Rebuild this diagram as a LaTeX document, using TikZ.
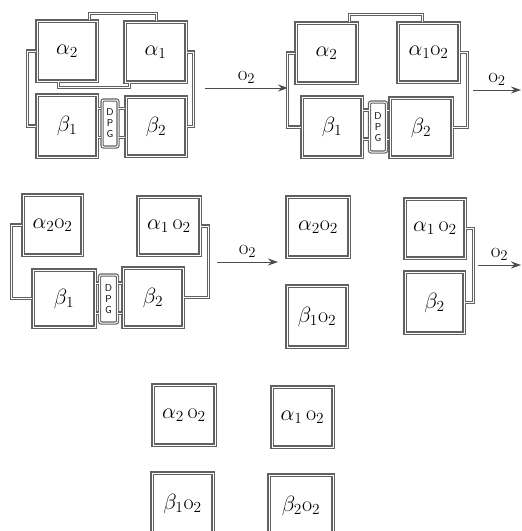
\RequirePackage{fix-cm}
\documentclass[tikz,border=0pt]{standalone}
\usetikzlibrary{arrows.meta,calc}
\begin{document}
\begin{tikzpicture}[x=1pt,y=-1pt,
  dbl/.style={draw=black!62, line width=1.2pt, double=white, double distance=1.0pt},
  unitbox/.style={dbl, rectangle, inner sep=0pt, font=\fontsize{22}{26}\selectfont},
  dpgbox/.style={dbl, rectangle, rounded corners=2pt, inner sep=0pt, align=center,
     font=\fontsize{10}{11}\selectfont\sffamily},
  link/.style={dbl},
  arr/.style={draw=black!70, line width=1pt, -{Stealth[length=10pt,width=7pt]}},
  lbl/.style={font=\fontsize{21}{24}\selectfont}]
\clip (0,0) rectangle (522,531);
\fill[white] (0,0) rectangle (522,531);

% ---------- panel 1 ----------
\node[unitbox, minimum width=60pt, minimum height=60pt] (p1a2) at (67,51) {$\alpha_2$};
\node[unitbox, minimum width=61pt, minimum height=60pt] (p1a1) at (155.5,52) {$\alpha_1$};
\node[unitbox, minimum width=60pt, minimum height=62pt] (p1b1) at (67,126) {$\beta_1$};
\node[unitbox, minimum width=60pt, minimum height=59pt] (p1b2) at (156,126.5) {$\beta_2$};
\node[dpgbox, minimum width=16pt, minimum height=47pt] (p1d) at (110,123.5) {D\\P\\G};
\draw[link] ($(p1a2.north east)+(-8,0)$) -- ++(0,-7) -| ($(p1a1.north west)+(32,0)$);
\draw[link] ($(p1a2.south west)+(22,0)$) -- ++(0,6) -| ($(p1a1.south west)+(5,0)$);
\draw[link] (p1a2.west) -- ++(-9,0) |- (p1b1.west);
\draw[link] (p1a1.east) -- ++(7,0) |- (p1b2.east);
\draw[link] ([yshift=15pt]p1d.west) -- ([yshift=15pt]p1d.west -| p1b1.east);
\draw[link] ([yshift=-14pt]p1d.west) -- ([yshift=-14pt]p1d.west -| p1b1.east);
\draw[link] ([yshift=15pt]p1d.east) -- ([yshift=15pt]p1d.east -| p1b2.west);
\draw[link] ([yshift=-14pt]p1d.east) -- ([yshift=-14pt]p1d.east -| p1b2.west);

\coordinate (s1) at (205,88);
\coordinate (e1) at (288,88);
\draw[arr] (s1) -- node[lbl, above=1pt] {$\mathrm{o}_2$} (e1);

% ---------- panel 2 ----------
\node[unitbox, minimum width=61pt, minimum height=60pt] (p2a2) at (326.5,53) {$\alpha_2$};
\node[unitbox, minimum width=61pt, minimum height=59pt] (p2a1) at (428.5,52.5) {$\alpha_1\mathrm{o}_2$};
\node[unitbox, minimum width=60pt, minimum height=60pt] (p2b1) at (332,127) {$\beta_1$};
\node[unitbox, minimum width=62pt, minimum height=59pt] (p2b2) at (421,127.5) {$\beta_2$};
\node[dpgbox, minimum width=17pt, minimum height=50pt] (p2d) at (378,127) {D\\P\\G};
\draw[link] ($(p2a2.north east)+(-8,0)$) -- ++(0,-8) -| ($(p2a1.north west)+(25,0)$);
\draw[link] (p2a2.west) -- ++(-8,0) |- (p2b1.west);
\draw[link] (p2a1.east) -- ++(8,0) |- (p2b2.east);
\draw[link] ([yshift=17pt]p2d.west) -- ([yshift=17pt]p2d.west -| p2b1.east);
\draw[link] ([yshift=-12pt]p2d.west) -- ([yshift=-12pt]p2d.west -| p2b1.east);
\draw[link] ([yshift=17pt]p2d.east) -- ([yshift=17pt]p2d.east -| p2b2.west);
\draw[link] ([yshift=-12pt]p2d.east) -- ([yshift=-12pt]p2d.east -| p2b2.west);

\coordinate (s2) at (473,90);
\coordinate (e2) at (521,90);
\draw[arr] (s2) -- node[lbl, above=1pt] {$\mathrm{o}_2$} (e2);

% ---------- panel 3 ----------
\node[unitbox, minimum width=59pt, minimum height=60pt] (p3a2) at (52.5,225) {$\alpha_2\mathrm{o}_2$};
\node[unitbox, minimum width=62pt, minimum height=58pt] (p3a1) at (169,226) {$\alpha_1\,\mathrm{o}_2$};
\node[unitbox, minimum width=62pt, minimum height=57pt] (p3b1) at (64,298.5) {$\beta_1$};
\node[unitbox, minimum width=60pt, minimum height=59pt] (p3b2) at (153,297.5) {$\beta_2$};
\node[dpgbox, minimum width=18pt, minimum height=48pt] (p3d) at (108.5,299) {D\\P\\G};
\draw[link] (p3a2.west) -- ++(-11,0) |- (p3b1.west);
\draw[link] (p3a1.east) -- ++(8,0) |- (p3b2.east);
\draw[link] ([yshift=16pt]p3d.west) -- ([yshift=16pt]p3d.west -| p3b1.east);
\draw[link] ([yshift=-14pt]p3d.west) -- ([yshift=-14pt]p3d.west -| p3b1.east);
\draw[link] ([yshift=16pt]p3d.east) -- ([yshift=16pt]p3d.east -| p3b2.west);
\draw[link] ([yshift=-14pt]p3d.east) -- ([yshift=-14pt]p3d.east -| p3b2.west);

\coordinate (s3) at (217,262);
\coordinate (e3) at (278,262);
\draw[arr] (s3) -- node[lbl, above=1pt] {$\mathrm{o}_2$} (e3);

% ---------- panel 4 ----------
\node[unitbox, minimum width=62pt, minimum height=60pt] (p4a2) at (318,227) {$\alpha_2\mathrm{o}_2$};
\node[unitbox, minimum width=60pt, minimum height=61pt] (p4b1) at (317,316.5) {$\beta_1\mathrm{o}_2$};
\node[unitbox, minimum width=60pt, minimum height=59pt] (p4a1) at (435,228.5) {$\alpha_1\,\mathrm{o}_2$};
\node[unitbox, minimum width=59pt, minimum height=61pt] (p4b2) at (434.5,302.5) {$\beta_2$};
\draw[link] (p4a1.east) -- ++(8,0) |- (p4b2.east);

\coordinate (s4) at (478,265);
\coordinate (e4) at (521,265);
\draw[arr] (s4) -- node[lbl, above=1pt] {$\mathrm{o}_2$} (e4);

% ---------- panel 5 ----------
\node[unitbox, minimum width=62pt, minimum height=60pt] (p5a2) at (184,415) {$\alpha_2\,\mathrm{o}_2$};
\node[unitbox, minimum width=61pt, minimum height=60pt] (p5a1) at (302.5,417) {$\alpha_1\,\mathrm{o}_2$};
\node[unitbox, minimum width=61pt, minimum height=66pt, text depth=0pt] (p5b1) at (182.5,506) {\raisebox{8pt}{$\beta_1\mathrm{o}_2$}};
\node[unitbox, minimum width=64pt, minimum height=66pt, text depth=0pt] (p5b2) at (301,508) {\raisebox{8pt}{$\beta_2\mathrm{o}_2$}};
\end{tikzpicture}
\end{document}
